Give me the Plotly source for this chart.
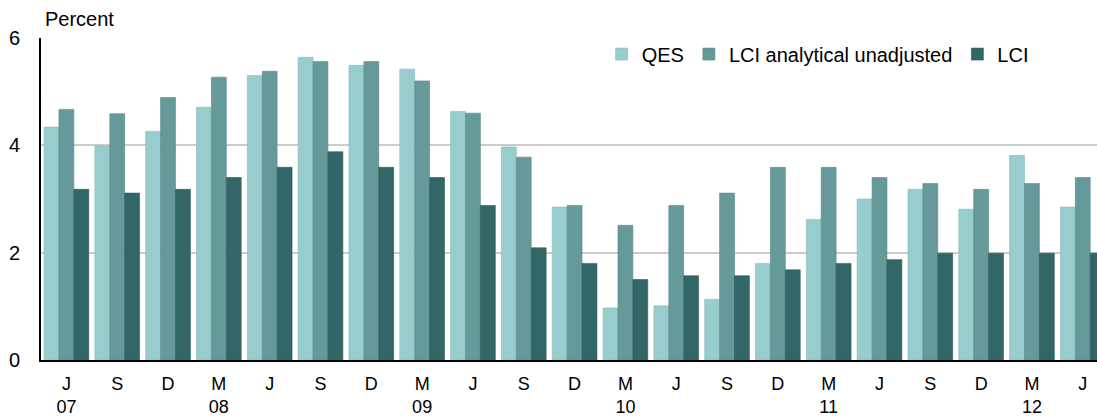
import plotly.graph_objects as go

categories = ["J<br>07", "S", "D", "M<br>08", "J", "S", "D", "M<br>09", "J", "S", "D",
              "M<br>10", "J", "S", "D", "M<br>11", "J", "S", "D", "M<br>12", "J"]
qes = [4.34, 3.99, 4.26, 4.71, 5.30, 5.64, 5.49, 5.42, 4.63, 3.97, 2.85,
       0.97, 1.01, 1.13, 1.80, 2.62, 3.00, 3.18, 2.81, 3.81, 2.85]
lci_analytical = [4.67, 4.59, 4.89, 5.27, 5.38, 5.56, 5.56, 5.20, 4.60, 3.78, 2.88,
                  2.51, 2.88, 3.11, 3.59, 3.59, 3.40, 3.29, 3.18, 3.29, 3.40]
lci = [3.18, 3.11, 3.18, 3.40, 3.59, 3.88, 3.59, 3.40, 2.88, 2.09, 1.80,
       1.50, 1.57, 1.57, 1.68, 1.80, 1.87, 1.99, 1.99, 1.99, 1.99]
y_ticks = [0, 2, 4, 6]

x = list(range(len(categories)))
font = "Liberation Sans, Arial, sans-serif"

fig = go.Figure()
series = [("QES", qes, "#99CCCC", "#88bbbb"),
          ("LCI analytical unadjusted", lci_analytical, "#669999", "#5a8c8c"),
          ("LCI", lci, "#336666", "#2c5a5a")]
for name, vals, col, edge in series:
    fig.add_trace(go.Bar(x=x, y=vals, name=name, marker_color=col,
                         marker_line=dict(color=edge, width=0.6)))

fig.update_layout(
    width=1097, height=416,
    margin=dict(l=41, r=0, t=38, b=56, autoexpand=False),
    paper_bgcolor="white", plot_bgcolor="white",
    barmode="group", bargap=0.12, bargroupgap=0,
    font=dict(family=font, size=20, color="black"),
    showlegend=True,
    legend=dict(orientation="h", x=0.94, xanchor="right", y=0.95, yanchor="middle",
                bgcolor="rgba(0,0,0,0)", font=dict(size=20), itemwidth=30,
                traceorder="normal"),
    xaxis=dict(tickmode="array", tickvals=x, ticktext=categories,
               range=[-0.5, 20.28], showgrid=False, ticks="",
               showline=True, linecolor="black", linewidth=2,
               tickfont=dict(size=18), ticklabelstandoff=6,
               automargin=False, fixedrange=True),
    yaxis=dict(range=[0, 6], tickvals=y_ticks, showgrid=True, gridcolor="#cccccc",
               gridwidth=1.5, zeroline=False, showline=True, linecolor="black", linewidth=2,
               ticks="", ticklabelstandoff=15, tickfont=dict(size=20),
               automargin=False),
    annotations=[dict(text="Percent", x=0, y=1, xref="paper", yref="paper",
                      xanchor="left", yanchor="bottom", yshift=6, xshift=2,
                      showarrow=False, font=dict(size=20))],
)

fig.write_html("out.html", config={"displayModeBar": False},
               post_script="document.body.style.margin='0px';document.body.style.overflow='hidden';")
